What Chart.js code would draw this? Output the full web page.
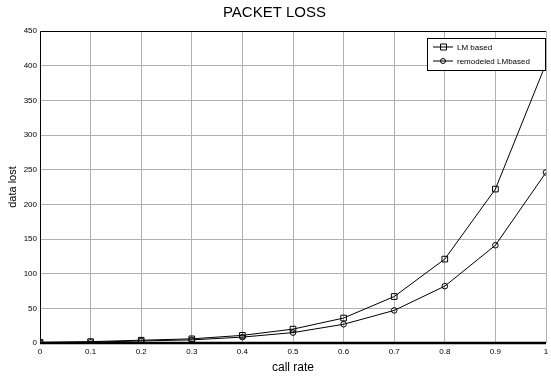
<!DOCTYPE html>
<html>
<head>
<meta charset="utf-8">
<script src="https://cdn.jsdelivr.net/npm/chart.js@4/dist/chart.umd.min.js"></script>
<style>
  html, body { margin: 0; padding: 0; background: #fff; }
  #wrap { width: 551px; height: 376px; }
</style>
</head>
<body>
<div id="wrap"><canvas id="lossChart"></canvas></div>
<script>
// call rate values on the x axis
const callRate = [0, 0.1, 0.2, 0.3, 0.4, 0.5, 0.6, 0.7, 0.8, 0.9, 1];
// data lost per method
const lmBased = [1, 2, 4, 6, 11, 20, 36, 67, 121, 222, 403];
const remodeledLM = [0.5, 1, 3, 4.5, 8.5, 15, 27, 47, 82, 141, 246];
const seriesNames = ['LM based', 'remodeled LMbased'];
const yTicks = [0, 50, 100, 150, 200, 250, 300, 350, 400, 450];

const tickFont = { family: '"Liberation Sans Narrow", "Liberation Sans", Arial, sans-serif', size: 8 };

// frame round the plot + legend box in the top right corner
const framePlugin = {
    id: 'frame',
    afterDraw(chart) {
        const { ctx, chartArea: a } = chart;
        ctx.save();
        ctx.strokeStyle = '#000';
        ctx.lineWidth = 1;
        ctx.beginPath();
        ctx.moveTo(a.left + 0.5, a.bottom);
        ctx.lineTo(a.left + 0.5, a.top + 0.5);
        ctx.lineTo(a.right, a.top + 0.5);
        ctx.stroke();
        ctx.lineWidth = 2.5;
        ctx.beginPath();
        ctx.moveTo(a.left, a.bottom);
        ctx.lineTo(a.right, a.bottom);
        ctx.stroke();

        // legend
        const bx = 427, by = 38, bw = 118, bh = 32;
        ctx.fillStyle = '#fff';
        ctx.fillRect(bx, by, bw, bh);
        ctx.lineWidth = 1;
        ctx.strokeRect(bx + 0.5, by + 0.5, bw, bh);
        chart.data.datasets.forEach((ds, i) => {
            const y = by + 9 + i * 14;
            ctx.beginPath();
            ctx.moveTo(bx + 6, y);
            ctx.lineTo(bx + 26, y);
            ctx.stroke();
            ctx.beginPath();
            if (ds.pointStyle === 'rect') {
                ctx.rect(bx + 13.5, y - 3, 6, 6);
            } else {
                ctx.arc(bx + 16, y, 2.5, 0, Math.PI * 2);
            }
            ctx.stroke();
            ctx.fillStyle = '#000';
            ctx.font = '8px "Liberation Sans Narrow", "Liberation Sans", Arial, sans-serif';
            ctx.textBaseline = 'middle';
            ctx.fillText(ds.label, bx + 30, y + 0.5);
        });
        ctx.restore();
    }
};

const ctx = document.getElementById('lossChart').getContext('2d');
new Chart(ctx, {
    type: 'line',
    data: {
        datasets: [
            {
                label: seriesNames[0],
                data: callRate.map((x, i) => ({ x: x, y: lmBased[i] })),
                borderColor: '#000',
                borderWidth: 1,
                backgroundColor: 'transparent',
                pointStyle: 'rect',
                pointRadius: 4,
                pointBorderColor: '#000',
                pointBorderWidth: 1,
                tension: 0
            },
            {
                label: seriesNames[1],
                data: callRate.map((x, i) => ({ x: x, y: remodeledLM[i] })),
                borderColor: '#000',
                borderWidth: 1,
                backgroundColor: 'transparent',
                pointStyle: 'circle',
                pointRadius: 2.8,
                pointBorderColor: '#000',
                pointBorderWidth: 1,
                tension: 0
            }
        ]
    },
    options: {
        responsive: true,
        maintainAspectRatio: false,
        animation: false,
        layout: { padding: { left: 0, right: 2, top: 0, bottom: 0 } },
        plugins: {
            legend: { display: false },
            tooltip: { enabled: false },
            title: {
                display: true,
                text: 'PACKET LOSS',
                color: '#000',
                font: { family: '"Liberation Sans", Arial, sans-serif', size: 15, weight: 'normal' },
                padding: { top: 4, bottom: 9 }
            }
        },
        scales: {
            x: {
                type: 'linear',
                min: 0,
                max: 1,
                afterBuildTicks: (scale) => { scale.ticks = callRate.map(v => ({ value: v })); },
                afterFit: (scale) => { scale.height = 33; scale.paddingLeft = 0; scale.paddingRight = 0; },
                ticks: {
                    color: '#000',
                    font: tickFont,
                    padding: 4,
                    maxRotation: 0,
                    autoSkip: false,
                    callback: (v) => String(v)
                },
                grid: { color: '#b0b0b0', lineWidth: 1, tickLength: 0, drawTicks: false },
                border: { display: false },
                title: {
                    display: true,
                    text: 'call rate',
                    color: '#000',
                    font: { family: '"Liberation Sans", Arial, sans-serif', size: 12 },
                    padding: { top: 0, bottom: 1 }
                }
            },
            y: {
                type: 'linear',
                min: 0,
                max: 450,
                afterBuildTicks: (scale) => { scale.ticks = yTicks.map(v => ({ value: v })); },
                afterFit: (scale) => { scale.width = 40; scale.paddingTop = 0; scale.paddingBottom = 0; },
                ticks: {
                    color: '#000',
                    font: tickFont,
                    padding: 3,
                    autoSkip: false
                },
                grid: { color: '#b0b0b0', lineWidth: 1, tickLength: 0, drawTicks: false },
                border: { display: false },
                title: {
                    display: true,
                    text: 'data lost',
                    color: '#000',
                    font: { family: '"Liberation Sans", Arial, sans-serif', size: 11 },
                    padding: { top: 6, bottom: 2 }
                }
            }
        }
    },
    plugins: [framePlugin]
});
</script>
</body>
</html>
